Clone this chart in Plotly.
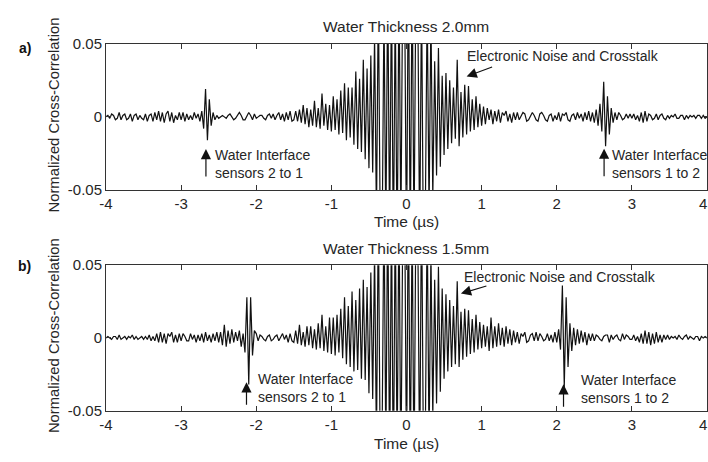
import numpy as np
import plotly.graph_objects as go

# Sampling grid for the cross-correlation traces (microseconds)
time_us = np.round(np.arange(-4.0, 4.0 + 1e-9, 0.025), 3)

# Normalized cross-correlation, in units of 1e-3, water thickness 2.0 mm
corr_a_milli = [
    0, 1, -1, 2, 1, -2, -1, 3, -2, 1, 2, -2, -1, 2, -3, 1, 2, -2, 1, -1,
    -2, 2, -3, 1, 2, -3, 3, -2, 4, -3, 3, -4, 2, 4, -3, 3, -4, 1, -2, 3,
    -2, 3, -3, 2, -2, 1, -2, 3, -1, 2, -3, 4, -8, 19, -16, 12, -6, 3, -2, 1,
    -1, 0, 1, 0, -1, 1, 2, 0, -2, -1, 1, 3, 1, -2, -2, 1, 3, 1, -2, 2,
    -1, 0, 1, 1, -1, -2, 1, 2, -1, 2, -2, 1, 3, -2, 2, -3, 3, -2, 4, -3,
    -2, 4, -3, 5, -4, 8, -5, 6, -7, 5, -6, 11, -7, 6, -8, 16, -6, 9, -9, 8,
    -10, 14, -9, 12, -12, 18, -11, 23, -16, 20, -14, 20, -19, 31, -22, 26, -24, 39, -29, 33,
    -35, 42, -38, 55, -70, 85, -75, -90, 75, -80, 95, -85, 90, -95, 80, -100, 95, -80, 100, 85,
    -95, 110, -90, 100, -85, 95, 80, -90, 85, -95, -70, 80, -65, 70, -55, 38, -40, 47, -34, 28,
    -26, 30, -22, 25, -18, 20, -15, 39, -20, 17, -14, 22, -12, 21, -10, 12, -9, 14, -7, 9,
    -6, 7, -5, 6, -2, 5, -5, 4, -3, 5, -4, 3, 1, 4, -3, 2, -4, 3, -2, 3,
    -2, 1, 3, 2, -3, -2, 1, 3, 1, -2, -3, 2, 3, 1, -2, -3, 1, 2, -3, 1,
    -2, 3, -3, 2, 1, 3, -2, -3, 1, 2, -2, 3, -1, 2, -3, 3, -2, 4, -3, 3,
    -4, 5, -6, 9, -10, 24, -20, 14, -12, 6, -4, 3, -2, 3, 1, -2, -1, 2, -1, 2,
    -1, 2, -2, 1, -3, 3, -4, 4, -3, 2, 1, -2, -1, 2, -2, 1, 2, -1, -2, 1,
    -1, 1, 0, 2, -1, -1, 1, 1, -2, 1, -1, 1, 0, 1, -1, 1, 1, -1, 1, -1,
    0,
]

# Normalized cross-correlation, in units of 1e-3, water thickness 1.5 mm
corr_b_milli = [
    0, 1, 0, -1, 1, 1, -1, 2, -1, 0, 1, -1, 1, 0, 2, -1, 1, -1, 0, 1,
    -1, 1, -1, 2, -2, 1, -2, 3, -3, 4, -3, 3, -4, 3, 1, 4, -3, 2, -3, 3,
    -2, 3, 1, -2, -2, 3, -1, 2, -3, 2, -2, 3, -3, 4, -2, 2, -3, 3, -2, 4,
    -3, 4, -5, 9, -6, 5, -4, 6, -3, 4, -2, 5, -6, 3, -10, 28, -32, 28, -12, 5,
    3, -2, 2, 1, -1, -2, 1, 2, -2, -1, 1, 2, -2, 1, 3, -1, 2, -3, 3, -2,
    -3, 5, -4, 9, -5, 4, -6, 8, -5, 8, -7, 6, -8, 10, -7, 16, -9, 8, -10, 14,
    -11, 14, -12, 16, -10, 20, -14, 28, -18, 22, -20, 32, -23, 26, -22, 34, -28, 40, -29, 35,
    -38, 45, -42, 60, -75, 90, -85, -70, 95, -80, 100, -95, 85, -105, 90, -85, 95, -100, 80, 95,
    -90, 105, -95, 85, -100, 90, 75, -95, 100, -80, -70, 85, -75, 60, -55, 40, -45, 49, -37, 34,
    -28, 30, -23, 26, -20, 22, -18, 39, -20, 18, -15, 20, -13, 19, -11, 13, -10, 16, -8, 11,
    -7, 9, -6, 8, -9, 14, -7, 8, -6, 10, -5, 7, -6, 8, -4, 6, -5, 5, -3, 4,
    -4, 3, 1, 4, -3, -2, 2, 3, -2, 4, -2, 3, 1, -2, -1, 3, -2, 2, -3, 4,
    -3, 6, -8, 36, -34, 28, -20, 10, -9, 7, -5, 6, -4, 5, -3, 4, -5, 3, -2, 3,
    -2, 2, 1, -1, -2, 1, 2, 2, -3, 2, -1, 1, 2, -1, -2, 3, -1, 2, 1, -1,
    -1, 2, -2, 1, -3, 3, -4, 5, -4, 4, -5, 3, -4, 4, -3, 2, -3, 2, -1, 2,
    -1, 1, 0, 1, -1, 2, 0, -1, 1, 2, -1, 1, 0, -1, 1, 1, -2, 1, 0, 1,
    0,
]

x_tick_vals = [-4, -3, -2, -1, 0, 1, 2, 3, 4]
x_tick_text = ["-4", "-3", "-2", "-1", "0", "1", "2", "3", "4"]
y_tick_vals = [-0.05, 0, 0.05]
y_tick_text = ["-0.05", "0", "0.05"]

panel_titles = ["Water Thickness 2.0mm", "Water Thickness 1.5mm"]
panel_labels = ["a)", "b)"]

corr_a = np.array(corr_a_milli) * 1e-3
corr_b = np.array(corr_b_milli) * 1e-3

FONT = "Liberation Sans, Arial, sans-serif"
TXT = "#262626"
W, H = 708, 462


def py(pixel_y):
    return 1 - pixel_y / H


def px(pixel_x):
    return pixel_x / W


fig = go.Figure()
fig.add_trace(go.Scatter(x=time_us, y=corr_a, mode="lines", xaxis="x", yaxis="y",
                         line=dict(color="#111111", width=1.2), showlegend=False,
                         hoverinfo="skip"))
fig.add_trace(go.Scatter(x=time_us, y=corr_b, mode="lines", xaxis="x2", yaxis="y2",
                         line=dict(color="#111111", width=1.2), showlegend=False,
                         hoverinfo="skip"))

axis_common = dict(showgrid=False, zeroline=False, showline=True, linecolor="#333333",
                   linewidth=1, mirror="allticks", ticks="inside", ticklen=5,
                   tickcolor="#333333", tickfont=dict(family=FONT, size=15, color=TXT))

# the rightmost tick label "4" sits on the page edge and is drawn separately
x_common = dict(axis_common, range=[-4, 4], tickmode="array", tickvals=x_tick_vals[:-1],
                ticktext=x_tick_text[:-1], domain=[px(100), px(707)])
y_common = dict(axis_common, range=[-0.05, 0.05], tickmode="array", tickvals=y_tick_vals,
                ticktext=y_tick_text)

fig.update_layout(
    width=W, height=H,
    margin=dict(l=0, r=0, t=0, b=0),
    paper_bgcolor="white", plot_bgcolor="white",
    font=dict(family=FONT, size=14, color=TXT),
    xaxis=dict(x_common, anchor="y"),
    yaxis=dict(y_common, anchor="x", domain=[py(188), py(36)]),
    xaxis2=dict(x_common, anchor="y2"),
    yaxis2=dict(y_common, anchor="x2", domain=[py(417), py(266)]),
)

annotations = []
text_font = dict(family=FONT, size=14, color=TXT)
label_font = dict(family=FONT, size=15.5, color=TXT)

# Panel titles, x-axis titles, y-axis titles and panel letters
for title, label, title_y, xlab_y, ylab_y, letter_y, tick_y in [
    (panel_titles[0], panel_labels[0], 18, 221, 110, 40, 202),
    (panel_titles[1], panel_labels[1], 249, 451, 339, 267, 431),
]:
    annotations.append(dict(text=title, xref="paper", yref="paper", x=px(403), y=py(title_y),
                            xanchor="center", yanchor="middle", showarrow=False, font=label_font))
    annotations.append(dict(text="Time (\u00b5s)", xref="paper", yref="paper", x=px(403),
                            y=py(xlab_y), xanchor="center", yanchor="middle", showarrow=False,
                            font=label_font))
    annotations.append(dict(text="Normalized Cross-Correlation", xref="paper", yref="paper",
                            x=px(47), y=py(ylab_y), xanchor="center", yanchor="middle",
                            textangle=-90, showarrow=False,
                            font=dict(family=FONT, size=14.8, color=TXT)))
    annotations.append(dict(text="<b>" + label + "</b>", xref="paper", yref="paper", x=px(18),
                            y=py(letter_y), xanchor="center", yanchor="middle", showarrow=False,
                            font=dict(family=FONT, size=14, color="#111111")))
    annotations.append(dict(text=x_tick_text[-1], xref="paper", yref="paper", x=1.0,
                            y=py(tick_y), xanchor="right", yanchor="middle", showarrow=False,
                            borderpad=0, font=dict(family=FONT, size=15, color=TXT)))

arrow_style = dict(showarrow=True, arrowhead=2, arrowsize=1.7, arrowwidth=1.2,
                   arrowcolor="#111111", axref="pixel", ayref="pixel", text="")

# Panel a callouts
annotations += [
    dict(arrow_style, xref="x", yref="y", x=-2.67, y=-0.022, ax=0, ay=29),
    dict(text="Water Interface<br>sensors 2 to 1", xref="x", yref="y", x=-2.57, y=-0.0322,
         xanchor="left", yanchor="middle", align="left", showarrow=False, font=text_font),
    dict(arrow_style, xref="x", yref="y", x=2.63, y=-0.0217, ax=0, ay=29),
    dict(text="Water Interface<br>sensors 1 to 2", xref="x", yref="y", x=2.71, y=-0.0322,
         xanchor="left", yanchor="middle", align="left", showarrow=False, font=text_font),
    dict(arrow_style, xref="x", yref="y", x=0.80, y=0.0276, ax=27, ay=-10),
    dict(text="Electronic Noise and Crosstalk", xref="x", yref="y", x=0.776, y=0.0414,
         xanchor="left", yanchor="middle", showarrow=False, font=text_font),
]

# Panel b callouts
annotations += [
    dict(arrow_style, xref="x2", yref="y2", x=-2.13, y=-0.0305, ax=0, ay=24),
    dict(text="Water Interface<br>sensors 2 to 1", xref="x2", yref="y2", x=-2.01, y=-0.0341,
         xanchor="left", yanchor="middle", align="left", showarrow=False, font=text_font),
    dict(arrow_style, xref="x2", yref="y2", x=2.09, y=-0.0318, ax=0, ay=24),
    dict(text="Water Interface<br>sensors 1 to 2", xref="x2", yref="y2", x=2.29, y=-0.0354,
         xanchor="left", yanchor="middle", align="left", showarrow=False, font=text_font),
    dict(arrow_style, xref="x2", yref="y2", x=0.724, y=0.0305, ax=27, ay=-8),
    dict(text="Electronic Noise and Crosstalk", xref="x2", yref="y2", x=0.736, y=0.0417,
         xanchor="left", yanchor="middle", showarrow=False, font=text_font),
]

fig.update_layout(annotations=annotations)
fig.write_html("out.html")
